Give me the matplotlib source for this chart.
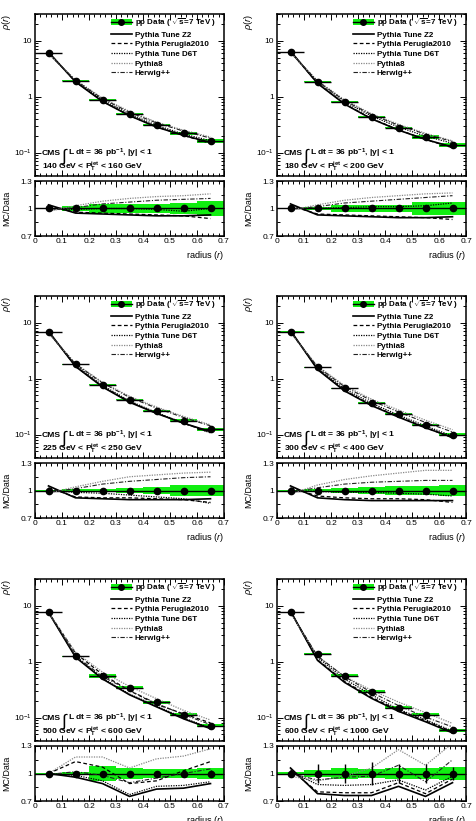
import numpy as np
import matplotlib
matplotlib.use('Agg')
import matplotlib.pyplot as plt
from matplotlib.ticker import MultipleLocator, FixedLocator, FixedFormatter, LogLocator, NullFormatter
from matplotlib.lines import Line2D
from matplotlib.patches import Patch

plt.rcParams['font.family'] = ['Liberation Sans', 'DejaVu Sans']
plt.rcParams['mathtext.fontset'] = 'custom'
plt.rcParams['mathtext.rm'] = 'Liberation Sans'
plt.rcParams['mathtext.it'] = 'Liberation Sans:italic'
plt.rcParams['mathtext.bf'] = 'Liberation Sans:bold'

# bin centres and jet pT bins
radius = [0.05, 0.15, 0.25, 0.35, 0.45, 0.55, 0.65]
pt_lo = [140, 180, 225, 300, 500, 600]
pt_hi = [160, 200, 250, 400, 600, 1000]
x_ticks = [0, 0.1, 0.2, 0.3, 0.4, 0.5, 0.6, 0.7]
x_tick_labels = ['0', '0.1', '0.2', '0.3', '0.4', '0.5', '0.6', '0.7']

# measured rho(r), one row per pT bin
rho_data = [
    [6.0, 1.93, 0.87, 0.49, 0.31, 0.22, 0.163],
    [6.2, 1.85, 0.80, 0.44, 0.28, 0.19, 0.138],
    [6.7, 1.79, 0.78, 0.42, 0.265, 0.177, 0.124],
    [6.9, 1.58, 0.67, 0.37, 0.23, 0.148, 0.100],
    [7.6, 1.25, 0.55, 0.34, 0.187, 0.113, 0.071],
    [7.6, 1.35, 0.56, 0.29, 0.15, 0.112, 0.059],
]
# relative systematic (green band) and statistical uncertainties
sys_data = [
    [0.01, 0.03, 0.045, 0.045, 0.045, 0.065, 0.085],
    [0.01, 0.02, 0.035, 0.04, 0.04, 0.07, 0.075],
    [0.01, 0.015, 0.02, 0.03, 0.04, 0.06, 0.06],
    [0.01, 0.015, 0.03, 0.04, 0.045, 0.05, 0.06],
    [0.01, 0.02, 0.085, 0.06, 0.05, 0.05, 0.06],
    [0.02, 0.04, 0.055, 0.05, 0.06, 0.06, 0.07],
]
stat_data = [
    [0.003, 0.005, 0.006, 0.007, 0.008, 0.009, 0.01],
    [0.003, 0.005, 0.006, 0.007, 0.008, 0.009, 0.01],
    [0.003, 0.005, 0.006, 0.007, 0.008, 0.009, 0.01],
    [0.003, 0.005, 0.006, 0.008, 0.009, 0.01, 0.012],
    [0.005, 0.02, 0.03, 0.03, 0.03, 0.035, 0.04],
    [0.01, 0.1, 0.1, 0.12, 0.1, 0.1, 0.07],
]

# MC / Data ratios
ratio_z2 = [
    [1.04, 0.95, 0.94, 0.93, 0.92, 0.92, 0.93],
    [1.05, 0.93, 0.92, 0.91, 0.90, 0.90, 0.91],
    [1.05, 0.92, 0.91, 0.90, 0.90, 0.90, 0.91],
    [1.05, 0.92, 0.90, 0.89, 0.89, 0.89, 0.89],
    [1.00, 0.96, 0.89, 0.75, 0.83, 0.84, 0.89],
    [1.06, 0.78, 0.76, 0.76, 0.86, 0.75, 0.90],
]
ratio_perugia = [
    [1.02, 0.96, 0.95, 0.94, 0.93, 0.92, 0.89],
    [1.03, 0.94, 0.93, 0.92, 0.91, 0.90, 0.88],
    [1.03, 0.93, 0.92, 0.92, 0.91, 0.90, 0.87],
    [1.03, 0.94, 0.92, 0.91, 0.91, 0.90, 0.87],
    [1.00, 1.13, 1.07, 0.89, 0.92, 1.03, 1.13],
    [1.04, 0.80, 0.79, 0.79, 0.90, 0.78, 0.94],
]
ratio_d6t = [
    [0.99, 0.99, 1.00, 1.00, 0.99, 0.97, 1.00],
    [1.00, 1.00, 1.01, 1.02, 1.02, 1.03, 1.06],
    [1.00, 0.98, 0.97, 0.95, 0.93, 0.91, 0.86],
    [1.00, 0.99, 0.98, 0.98, 0.97, 0.96, 0.94],
    [1.00, 0.98, 0.92, 0.77, 0.86, 0.87, 0.91],
    [1.02, 0.88, 0.87, 0.88, 0.93, 0.82, 0.97],
]
ratio_py8 = [
    [0.97, 1.03, 1.08, 1.11, 1.13, 1.14, 1.16],
    [0.98, 1.04, 1.09, 1.12, 1.14, 1.16, 1.17],
    [0.97, 1.04, 1.10, 1.15, 1.17, 1.19, 1.20],
    [0.96, 1.06, 1.12, 1.16, 1.19, 1.22, 1.22],
    [1.00, 1.18, 1.18, 1.06, 1.16, 1.19, 1.27],
    [0.97, 0.92, 0.97, 1.06, 1.26, 1.09, 1.33],
]
ratio_herwig = [
    [0.98, 1.01, 1.05, 1.07, 1.09, 1.10, 1.11],
    [0.99, 1.02, 1.06, 1.08, 1.10, 1.12, 1.14],
    [0.98, 1.02, 1.07, 1.10, 1.12, 1.14, 1.15],
    [0.98, 1.03, 1.07, 1.09, 1.10, 1.11, 1.11],
    [0.99, 1.02, 0.98, 0.90, 0.95, 1.00, 1.05],
    [1.00, 0.93, 0.96, 0.97, 1.09, 0.91, 1.15],
]

green = '#11ee11'
models = [
    ('Pythia Tune Z2', ratio_z2, dict(color='k', ls='-', lw=1.2)),
    ('Pythia Perugia2010', ratio_perugia, dict(color='k', ls=(0, (3, 2)), lw=0.9)),
    ('Pythia Tune D6T', ratio_d6t, dict(color='k', ls=(0, (1, 1)), lw=0.9)),
    ('Pythia8', ratio_py8, dict(color='#888888', ls=(0, (1, 1)), lw=0.9)),
    ('Herwig++', ratio_herwig, dict(color='#222222', ls=(0, (4, 1.5, 1, 1.5)), lw=0.8)),
]

W, H = 476, 821
fig = plt.figure(figsize=(W / 100, H / 100), dpi=100)
col_left = [35, 277]
row_top = [14, 296, 579]
ax_w, main_h, rat_h = 189, 162, 55


def style(a):
    a.tick_params(which='both', direction='in', top=True, right=True, labelsize=6,
                  colors='k', width=0.7)
    a.tick_params(which='major', length=4, pad=2)
    a.tick_params(which='minor', length=2)
    for s in a.spines.values():
        s.set_linewidth(1.1)


for i in range(6):
    row, col = divmod(i, 2)
    x0 = col_left[col]
    y0 = row_top[row]
    ax = fig.add_axes([x0 / W, 1 - (y0 + main_h) / H, ax_w / W, main_h / H])
    rax = fig.add_axes([x0 / W, 1 - (y0 + main_h + 5 + rat_h) / H, ax_w / W, rat_h / H])

    rho = np.array(rho_data[i])
    sys = np.array(sys_data[i])
    stat = np.array(stat_data[i])

    # main panel
    ax.set_yscale('log')
    ax.bar(radius, 2 * sys * rho, bottom=rho * (1 - sys), width=0.1, color=green, lw=0, zorder=1)
    for name, ratio, kw in models:
        ax.plot(radius, rho * np.array(ratio[i]), zorder=2, **kw)
    ax.errorbar(radius, rho, xerr=0.05, yerr=stat * rho, fmt='o', color='k', ms=4.5,
                lw=1.0, capsize=0, zorder=3)
    ax.set_xlim(0, 0.7)
    ax.set_ylim(0.038, 30)
    ax.xaxis.set_major_locator(FixedLocator(x_ticks))
    ax.xaxis.set_minor_locator(MultipleLocator(0.02))
    ax.yaxis.set_major_locator(FixedLocator([0.1, 1, 10]))
    ax.yaxis.set_major_formatter(FixedFormatter(['10$^{-1}$', '1', '10']))
    ax.yaxis.set_minor_locator(LogLocator(subs=np.arange(2, 10)))
    ax.yaxis.set_minor_formatter(NullFormatter())
    ax.tick_params(labelbottom=False)
    style(ax)
    ax.set_ylabel(r'$\rho(r)$', loc='top', fontsize=6.6)
    ax.yaxis.set_label_coords(-0.115, 1.0)

    ax.text(0.037, 0.14, 'CMS', transform=ax.transAxes, fontsize=6.1, fontweight='bold', va='center')
    ax.text(0.136, 0.12, r'$\int$', transform=ax.transAxes, fontsize=12.5, va='center')
    ax.text(0.176, 0.14, r'L dt = 36 pb$^{\mathbf{-1}}$, |y| < 1', transform=ax.transAxes,
            fontsize=6.1, fontweight='bold', va='center')
    ax.text(0.037, 0.055, r'%d GeV < P$_{\mathbf{T}}^{\mathbf{jet}}$ < %d GeV' % (pt_lo[i], pt_hi[i]),
            transform=ax.transAxes, fontsize=6.1, fontweight='bold', va='center')

    handles = [(Patch(facecolor=green, lw=0),
                Line2D([], [], color='k', marker='o', ms=4, lw=1))]
    labels = [r'pp Data ( $\sqrt{\mathbf{s}}$=7 TeV )']
    for name, ratio, kw in models:
        handles.append(Line2D([], [], **kw))
        labels.append(name)
    ax.legend(handles, labels, loc='upper left', bbox_to_anchor=(0.40, 0.985), frameon=False,
              prop={'weight': 'bold', 'size': 5.8}, handlelength=2.6, handletextpad=0.4,
              labelspacing=0.25, borderpad=0, borderaxespad=0)

    # ratio panel
    rax.bar(radius, 2 * sys, bottom=1 - sys, width=0.1, color=green, lw=0, zorder=1)
    rax.axhline(1, color='k', lw=1.0, zorder=2)
    for name, ratio, kw in models:
        rax.plot(radius, ratio[i], zorder=2, **kw)
    rax.errorbar(radius, np.ones(len(radius)), yerr=stat, fmt='o', color='k', ms=4.5,
                 lw=1.0, capsize=0, zorder=3)
    rax.set_xlim(0, 0.7)
    rax.set_ylim(0.7, 1.3)
    rax.xaxis.set_major_locator(FixedLocator(x_ticks))
    rax.xaxis.set_major_formatter(FixedFormatter(x_tick_labels))
    rax.xaxis.set_minor_locator(MultipleLocator(0.02))
    rax.yaxis.set_major_locator(FixedLocator([0.7, 1.0, 1.3]))
    rax.yaxis.set_major_formatter(FixedFormatter(['0.7', '1', '1.3']))
    rax.yaxis.set_minor_locator(FixedLocator([0.85, 1.15]))
    style(rax)
    rax.tick_params(axis='x', pad=1.5)
    rax.set_ylabel('MC/Data', fontsize=6.4)
    rax.yaxis.set_label_coords(-0.125, 0.5)
    rax.set_xlabel(r'radius ($r$)', loc='right', fontsize=6.6)
    rax.xaxis.set_label_coords(1.0, -0.24)

fig.savefig('out.png', dpi=100)
